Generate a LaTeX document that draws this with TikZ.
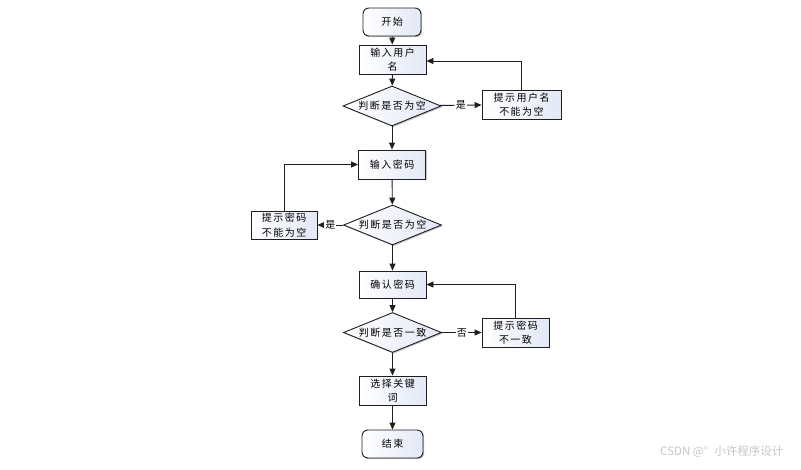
\documentclass[tikz,border=0pt]{standalone}
\usepackage{fontspec}
\setmainfont{Noto Sans CJK SC}
\newfontfamily\cjkfont{Noto Sans CJK SC}[LetterSpace=15]
\usetikzlibrary{shapes.geometric,arrows.meta,shadows}
\definecolor{boxbot}{RGB}{226,232,246}
\definecolor{linec}{RGB}{30,30,30}
\tikzset{
  base/.style={draw=linec, line width=0.9pt, left color=white, right color=boxbot,
    drop shadow={shadow xshift=1.2pt, shadow yshift=-1.2pt, opacity=0.45},
    inner sep=1pt, align=center, font=\cjkfont\fontsize{10}{14.5}\selectfont},
  box/.style={base, minimum width=67pt, minimum height=29pt},
  term/.style={base, rounded corners=6pt, minimum width=58pt, minimum height=28pt},
  dec/.style={base, shape=diamond, aspect=2.4, minimum width=98pt, minimum height=40pt, inner sep=0pt},
  arr/.style={draw=linec, line width=0.9pt, -{Triangle[length=7pt,width=6pt]}},
  lab/.style={fill=white, inner sep=0.8pt, font=\cjkfont\fontsize{10}{11}\selectfont}
}
\begin{document}
\begin{tikzpicture}[x=1pt,y=-1pt]
\useasboundingbox (0,0) rectangle (801,469);
\fill[white] (0,0) rectangle (801,469);
\node[term] (start) at (392,22) {开始};
\node[box] (in1) at (392.5,59.5) {输入用户\\名};
\node[dec] (d1) at (392,106) {判断是否为空};
\node[box, minimum width=79pt] (h1) at (521.5,104.5) {提示用户名\\不能为空};
\node[box, minimum height=29pt] (in2) at (392,164.5) {输入密码};
\node[dec] (d2) at (392.5,225) {判断是否为空};
\node[box, minimum width=66pt, minimum height=28pt] (h2) at (284,225) {提示密码\\不能为空};
\node[box, minimum height=27pt] (cf) at (392.5,284.5) {确认密码};
\node[dec] (d3) at (392.5,332.5) {判断是否一致};
\node[box] (h3) at (515.5,332.5) {提示密码\\不一致};
\node[box] (sel) at (392.5,390.5) {选择关键\\词};
\node[term, minimum width=61pt] (end) at (392.5,444) {结束};
\draw[arr] (start) -- (in1);
\draw[arr] (in1) -- (d1);
\draw[arr] (d1) -- node[lab] {是} (h1);
\draw[arr] (h1.north) |- ([yshift=-1.5pt]in1.east);
\draw[arr] (d1) -- (in2);
\draw[arr] (in2) -- (d2);
\draw[arr] (d2) -- node[lab] {是} (h2);
\draw[arr] (h2.north) |- (in2.west);
\draw[arr] (d2) -- (cf);
\draw[arr] (cf) -- (d3);
\draw[arr] (d3) -- node[lab] {否} (h3);
\draw[arr] (h3.north) |- (cf.east);
\draw[arr] (d3) -- (sel);
\draw[arr] (sel) -- (end);
\node[text=black!22, font=\fontsize{11.5}{13}\selectfont, anchor=east] (wm) at (787,452) {CSDN @°\,\, 小许程序设计};
\end{tikzpicture}
\end{document}
